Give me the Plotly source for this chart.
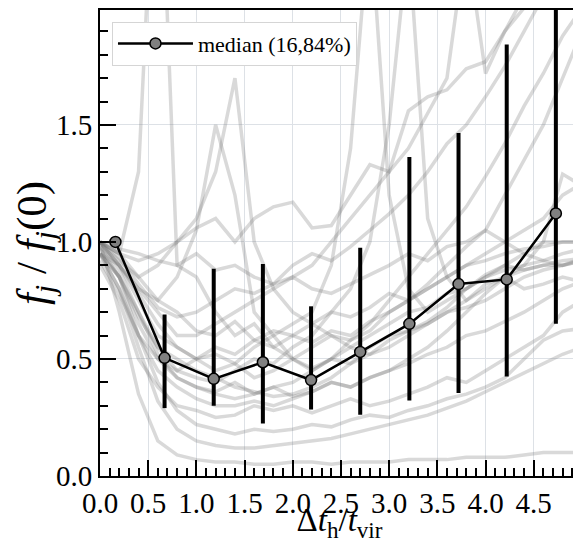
import plotly.graph_objects as go

# Bin centres of the median curve (in units of t_vir)
bin_x = [0.16, 0.67, 1.18, 1.69, 2.19, 2.70, 3.21, 3.72, 4.22, 4.73]
p50 = [1.00, 0.505, 0.415, 0.486, 0.41, 0.53, 0.65, 0.82, 0.84, 1.122]
p16 = [1.00, 0.29, 0.30, 0.224, 0.284, 0.262, 0.323, 0.355, 0.425, 0.65]
p84 = [1.00, 0.69, 0.885, 0.906, 0.725, 0.975, 1.363, 1.465, 1.844, 2.10]

# Individual halo tracks, sampled on a common grid
track_x = [0.0, 0.2, 0.4, 0.6, 0.8, 1.0, 1.2, 1.4, 1.6, 1.8, 2.0, 2.2, 2.4,
           2.6, 2.8, 3.0, 3.2, 3.4, 3.6, 3.8, 4.0, 4.2, 4.4, 4.6, 4.8, 5.0]

h01 = [1.0, 0.7, 0.35, 0.15, 0.09, 0.07, 0.06, 0.06, 0.05, 0.05, 0.06, 0.06, 0.05,
       0.06, 0.06, 0.06, 0.07, 0.07, 0.07, 0.08, 0.08, 0.08, 0.09, 0.10, 0.10, 0.10]
h02 = [0.95, 0.8, 0.55, 0.32, 0.2, 0.15, 0.13, 0.12, 0.12, 0.13, 0.14, 0.15, 0.16,
       0.18, 0.2, 0.22, 0.24, 0.26, 0.29, 0.32, 0.36, 0.4, 0.44, 0.48, 0.52, 0.55]
h03 = [0.97, 0.85, 0.6, 0.4, 0.28, 0.22, 0.2, 0.18, 0.2, 0.19, 0.2, 0.22, 0.21,
       0.24, 0.26, 0.25, 0.28, 0.3, 0.33, 0.35, 0.38, 0.42, 0.5, 0.58, 0.62, 0.63]
h04 = [0.9, 0.75, 0.5, 0.38, 0.3, 0.28, 0.25, 0.26, 0.3, 0.28, 0.3, 0.27, 0.3,
       0.33, 0.3, 0.32, 0.35, 0.38, 0.42, 0.4, 0.45, 0.5, 0.55, 0.6, 0.7, 0.75]
h05 = [1.0, 0.88, 0.7, 0.52, 0.42, 0.38, 0.36, 0.4, 0.35, 0.38, 0.34, 0.36, 0.4,
       0.38, 0.42, 0.45, 0.48, 0.52, 0.55, 0.6, 0.62, 0.66, 0.7, 0.75, 0.8, 0.83]
h06 = [0.98, 0.9, 0.78, 0.65, 0.55, 0.5, 0.45, 0.48, 0.42, 0.45, 0.5, 0.46, 0.5,
       0.55, 0.52, 0.58, 0.62, 0.66, 0.72, 0.8, 0.86, 0.9, 0.88, 0.9, 0.92, 0.93]
h07 = [1.0, 0.95, 0.85, 0.75, 0.7, 0.62, 0.6, 0.66, 0.58, 0.55, 0.6, 0.57, 0.62,
       0.6, 0.66, 0.7, 0.75, 0.82, 0.9, 0.98, 1.05, 1.2, 1.35, 1.5, 1.7, 1.9]
h08 = [1.0, 0.97, 0.95, 0.92, 0.9, 0.95, 0.88, 0.9, 0.85, 0.82, 0.85, 0.8, 0.78,
       0.82, 0.86, 0.9, 0.95, 0.92, 0.98, 1.0, 1.05, 1.0, 0.95, 0.92, 0.9, 0.93]
h09 = [1.0, 0.95, 0.92, 0.95, 1.0, 1.06, 1.1, 1.0, 1.1, 1.15, 1.17, 1.06, 1.07,
       1.2, 1.33, 1.3, 1.56, 1.62, 1.65, 1.74, 1.77, 1.9, 2.0, 2.1, 2.2, 2.2]
h10 = [1.0, 0.95, 1.3, 3.0, 0.9, 0.85, 0.7, 0.6, 0.65, 0.55, 0.5, 0.55, 0.6,
       0.58, 0.62, 0.7, 0.75, 0.8, 0.85, 0.9, 0.95, 1.0, 1.05, 1.1, 1.2, 1.25]
h11 = [1.0, 0.92, 0.85, 0.9, 1.0, 1.1, 1.3, 1.7, 1.0, 0.8, 0.7, 0.65, 0.6,
       0.55, 0.6, 0.65, 0.7, 0.72, 0.78, 0.8, 0.85, 0.88, 0.9, 0.92, 0.95, 0.97]
h12 = [0.95, 0.9, 0.8, 0.75, 0.85, 1.05, 1.5, 1.2, 0.7, 0.6, 0.5, 0.45, 0.5,
       0.48, 0.52, 0.55, 0.6, 0.65, 0.7, 0.75, 0.82, 0.85, 0.88, 0.9, 0.9, 0.92]
h13 = [1.0, 0.9, 0.75, 0.6, 0.55, 0.5, 0.52, 0.48, 0.55, 0.6, 0.65, 0.7, 0.9,
       1.4, 2.4, 1.2, 0.8, 0.7, 0.75, 0.8, 0.85, 0.9, 0.95, 1.0, 1.0, 1.0]
h14 = [0.95, 0.85, 0.7, 0.55, 0.45, 0.42, 0.4, 0.45, 0.5, 0.48, 0.55, 0.6, 0.7,
       0.8, 1.0, 1.5, 2.3, 1.1, 0.85, 0.75, 0.8, 0.85, 0.8, 0.82, 0.85, 0.83]
h15 = [1.0, 0.9, 0.8, 0.7, 0.6, 0.6, 0.65, 0.7, 0.75, 0.8, 0.85, 0.9, 1.0,
       1.1, 1.2, 1.3, 1.4, 1.55, 1.7, 2.3, 1.72, 1.9, 2.05, 2.3, 2.3, 2.3]
h16 = [0.98, 0.85, 0.65, 0.5, 0.42, 0.38, 0.35, 0.33, 0.35, 0.38, 0.4, 0.45, 0.5,
       0.58, 0.65, 0.75, 0.85, 0.95, 1.05, 1.15, 1.28, 1.42, 1.58, 1.72, 1.88, 2.0]
h17 = [0.95, 0.8, 0.6, 0.45, 0.38, 0.33, 0.3, 0.3, 0.32, 0.3, 0.33, 0.36, 0.4,
       0.38, 0.42, 0.45, 0.5, 0.55, 0.62, 0.7, 0.78, 0.85, 0.9, 1.0, 1.29, 1.24]
h18 = [1.0, 0.93, 0.82, 0.72, 0.68, 0.7, 0.75, 0.8, 0.78, 0.82, 0.9, 0.95, 0.92,
       0.98, 1.05, 1.12, 1.2, 1.3, 1.42, 1.5, 1.62, 1.75, 1.9, 2.05, 2.2, 2.3]
h19 = [0.92, 0.78, 0.6, 0.5, 0.45, 0.5, 0.55, 0.52, 0.58, 0.62, 0.6, 0.65, 0.7,
       0.68, 0.72, 0.78, 0.75, 0.8, 0.85, 0.9, 0.92, 0.95, 0.97, 0.98, 1.0, 1.0]
h20 = [0.95, 0.85, 0.68, 0.55, 0.5, 0.45, 0.42, 0.38, 0.36, 0.34, 0.35, 0.38, 0.42,
       0.48, 0.55, 0.6, 0.62, 0.65, 0.7, 0.72, 0.75, 0.8, 0.85, 0.88, 0.9, 0.92]

tracks = [h01, h02, h03, h04, h05, h06, h07, h08, h09, h10,
          h11, h12, h13, h14, h15, h16, h17, h18, h19, h20]

serif = "Liberation Serif"

fig = go.Figure()

for t in tracks:
    fig.add_trace(go.Scatter(x=track_x, y=t, mode="lines",
                             line=dict(color="rgba(120,120,120,0.28)", width=3.5),
                             showlegend=False, hoverinfo="skip"))

err_up = [hi - m for hi, m in zip(p84, p50)]
err_dn = [m - lo for lo, m in zip(p16, p50)]

fig.add_trace(go.Scatter(x=bin_x, y=p50, mode="lines+markers",
                         name="median (16,84%)",
                         line=dict(color="black", width=2.5),
                         marker=dict(color="#808080", size=11,
                                     line=dict(color="black", width=1.5)),
                         error_y=dict(type="data", symmetric=False,
                                      array=err_up, arrayminus=err_dn,
                                      color="black", thickness=4, width=0)))

axis_common = dict(showline=True, linecolor="black", linewidth=2, mirror=True,
                   ticks="inside", ticklen=16, tickwidth=2, tickcolor="black",
                   showgrid=True, gridcolor="#dde1e6", gridwidth=1,
                   zeroline=False, tickfont=dict(family=serif, size=29, color="black"))

fig.update_xaxes(range=[0, 4.97], dtick=0.5, tick0=0, tickformat=".1f",
                 minor=dict(ticks="inside", ticklen=8, tickwidth=2, tickcolor="black",
                            dtick=0.1, showgrid=False),
                 title=dict(text="Δ<i>t</i><sub>h</sub>/<i>t</i><sub>vir</sub>",
                            font=dict(family=serif, size=33, color="black"), standoff=0),
                 **axis_common)
fig.update_yaxes(range=[0, 1.991], dtick=0.5, tick0=0, tickformat=".1f",
                 minor=dict(ticks="inside", ticklen=8, tickwidth=2, tickcolor="black",
                            dtick=0.1, showgrid=False),
                 title=dict(text="<i>f<sub>j</sub></i> / <i>f<sub>j</sub></i>(0)",
                            font=dict(family=serif, size=43, color="black"), standoff=2),
                 **axis_common)

# the page body adds an 8px offset, so the figure is sized to fit what remains
fig.update_layout(
    width=573, height=535,
    margin=dict(l=92, r=2, t=0, b=67),
    plot_bgcolor="white", paper_bgcolor="white",
    legend=dict(x=0.025, y=0.975, xanchor="left", yanchor="top",
                bgcolor="white", bordercolor="#d5d5d5", borderwidth=1,
                itemwidth=75,
                font=dict(family=serif, size=22, color="black")),
)

fig.write_html("out.html")
